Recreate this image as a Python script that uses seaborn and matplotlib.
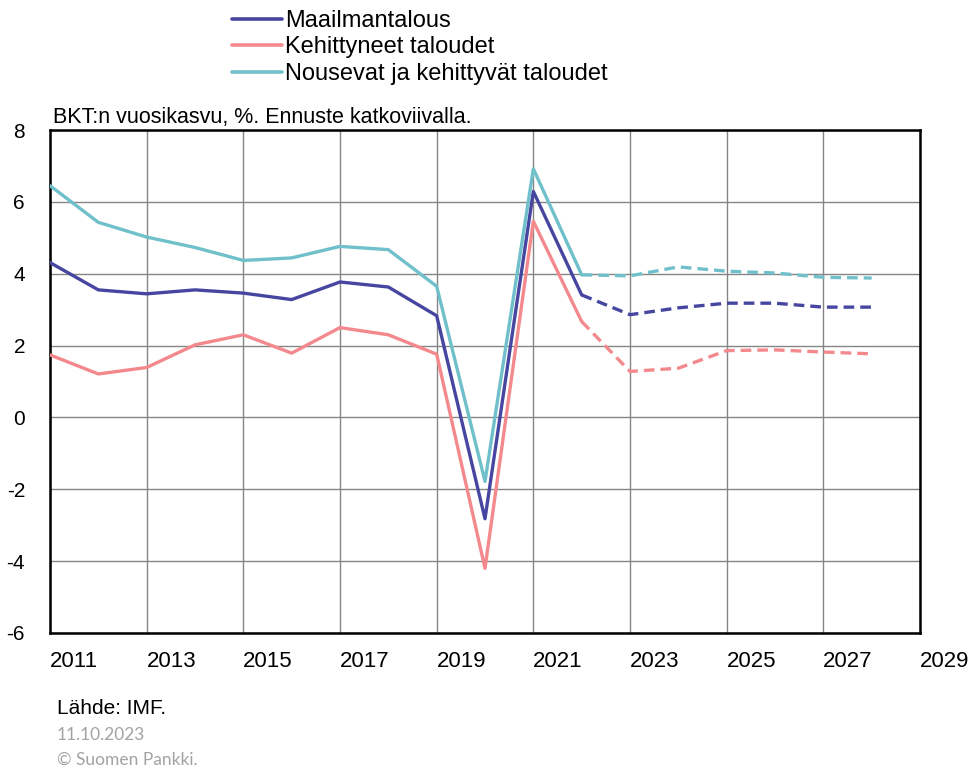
import pandas as pd
import seaborn as sns
import matplotlib.pyplot as plt
from matplotlib.lines import Line2D

# BKT:n vuosikasvu, % (IMF, lokakuu 2023)
years = list(range(2011, 2029))
maailmantalous = [4.31, 3.55, 3.44, 3.55, 3.46, 3.28, 3.77, 3.63, 2.83, -2.82,
                  6.29, 3.41, 2.86, 3.05, 3.18, 3.18, 3.07, 3.07]
kehittyneet = [1.74, 1.21, 1.39, 2.02, 2.30, 1.79, 2.50, 2.30, 1.76, -4.20,
               5.46, 2.67, 1.28, 1.37, 1.86, 1.88, 1.82, 1.77]
nousevat = [6.45, 5.43, 5.02, 4.73, 4.37, 4.44, 4.76, 4.67, 3.65, -1.78,
            6.92, 3.97, 3.94, 4.19, 4.07, 4.02, 3.90, 3.88]
last_actual = 2022

series_names = ['Maailmantalous', 'Kehittyneet taloudet', 'Nousevat ja kehittyvät taloudet']
series_values = [maailmantalous, kehittyneet, nousevat]
colors = ['#4646a0', '#f4898d', '#70c0cb']
x_ticks = list(range(2011, 2030, 2))
y_ticks = list(range(-6, 9, 2))

# Long table: actual part solid, forecast part dashed (2022 in both)
rows = []
for name, vals in zip(series_names, series_values):
    for yr, v in zip(years, vals):
        if yr <= last_actual:
            rows.append({'vuosi': yr, 'arvo': v, 'sarja': name, 'jakso': 'toteutunut'})
        if yr >= last_actual:
            rows.append({'vuosi': yr, 'arvo': v, 'sarja': name, 'jakso': 'ennuste'})
df = pd.DataFrame(rows)

sns.set_theme(style='white')
plt.rcParams['font.family'] = ['Liberation Sans', 'DejaVu Sans']
plt.rcParams['text.color'] = 'black'
plt.rcParams['xtick.color'] = 'black'
plt.rcParams['ytick.color'] = 'black'

fig = plt.figure(figsize=(9.71, 7.67), dpi=100)
ax = fig.add_axes([50 / 971, 1 - 633 / 767, 870 / 971, 503 / 767])

sns.lineplot(data=df, x='vuosi', y='arvo', hue='sarja', style='jakso',
             hue_order=series_names, palette=dict(zip(series_names, colors)),
             dashes={'toteutunut': '', 'ennuste': (3.2, 1.8)},
             linewidth=2.4, errorbar=None, legend=False, ax=ax, zorder=3)

ax.set_xlim(2011, 2029)
ax.set_ylim(-6, 8)
ax.set_xticks(x_ticks)
ax.set_xticklabels([str(t) for t in x_ticks], ha='left', fontsize=16)
ax.set_yticks(y_ticks)
ax.set_yticklabels([str(t) for t in y_ticks], fontsize=15)
ax.tick_params(axis='x', length=0, pad=13, labelcolor='black')
ax.tick_params(axis='y', length=0, pad=18, labelcolor='black')
ax.set_xlabel('')
ax.set_ylabel('')
ax.grid(True, color='#858585', linewidth=1)
ax.set_axisbelow(True)
for s in ax.spines.values():
    s.set_color('black')
    s.set_linewidth(1.8)

# Legend above the plot
handles = [Line2D([], [], color=c, lw=2.6) for c in colors]
fig.legend(handles, series_names, loc='upper left',
           bbox_to_anchor=(232 / 971, 1 - 10 / 767), frameon=False, fontsize=17,
           handlelength=2.1, handletextpad=0.15, labelspacing=0.19,
           borderpad=0, borderaxespad=0, labelcolor='black')

fig.text(53 / 971, 1 - 117 / 767, 'BKT:n vuosikasvu, %. Ennuste katkoviivalla.',
         fontsize=15.5, va='center', ha='left')
fig.text(57 / 971, 1 - 708 / 767, 'Lähde: IMF.', fontsize=15, va='center', ha='left')
fig.text(57 / 971, 1 - 735 / 767, '11.10.2023', fontsize=12.5, va='center', ha='left',
         color='#a3a3a3', family='Lato')
fig.text(57 / 971, 1 - 760 / 767, '© Suomen Pankki.', fontsize=12.5, va='center',
         ha='left', color='#a3a3a3', family='Lato')

fig.savefig('out.png', dpi=100)
